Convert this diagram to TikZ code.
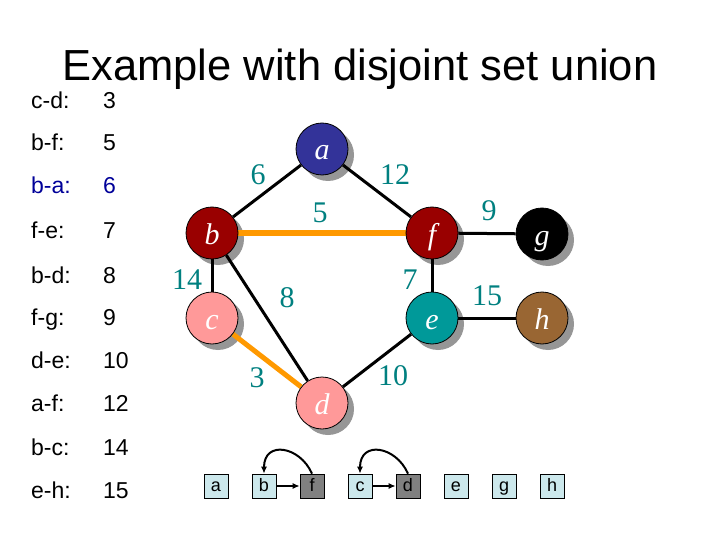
\documentclass[tikz,border=0pt]{standalone}
\usepackage{fontspec}
\setmainfont{Liberation Sans}
\newfontfamily\timesf{Liberation Serif}
\usetikzlibrary{arrows.meta}
\pgfdeclarelayer{paperlayer}
\pgfdeclarelayer{shadowlayer}
\pgfdeclarelayer{edgelayer}
\pgfsetlayers{paperlayer,shadowlayer,edgelayer,main}
\definecolor{ca}{RGB}{51,51,153}
\definecolor{cb}{RGB}{153,0,0}
\definecolor{cc}{RGB}{255,153,153}
\definecolor{ce}{RGB}{0,153,153}
\definecolor{ch}{RGB}{153,102,51}
\definecolor{lbl}{RGB}{0,128,128}
\definecolor{treeor}{RGB}{255,153,0}
\definecolor{boxc}{RGB}{204,232,236}
\definecolor{boxg}{RGB}{128,128,128}
\definecolor{listblue}{RGB}{0,0,153}
\definecolor{shad}{RGB}{150,150,150}
\begin{document}
\begin{tikzpicture}[x=1pt,y=-1pt,
  vert/.style={circle, draw=black, line width=0.8pt, minimum size=52pt, inner sep=0pt,
    text height=22pt, text depth=0pt,
    text=white, font=\timesf\itshape\fontsize{30}{30}\selectfont},
  wlabel/.style={text=lbl, inner sep=0pt, font=\timesf\fontsize{30}{30}\selectfont},
  gedge/.style={line width=3pt, black},
  tedge/.style={line width=5pt, treeor},
  listitem/.style={anchor=west, inner sep=0pt, text height=16pt, text depth=4pt,
    font=\fontsize{23}{23}\selectfont},
  setbox/.style={draw=black, line width=0.6pt, minimum size=24pt, inner sep=0pt,
    text height=13pt, text depth=3pt,
    fill=boxc, font=\fontsize{18}{18}\selectfont},
  parr/.style={line width=2pt, -{Latex[length=7pt,width=6pt]}}
]
\begin{pgfonlayer}{paperlayer}
\fill[white] (0,0) rectangle (720,540);
\end{pgfonlayer}
\useasboundingbox (0,0) rectangle (720,540);

% title
\node[inner sep=0pt, anchor=base, font=\fontsize{43.5}{43.5}\selectfont] (title) at (360,81) {Example with disjoint set union};

% sorted edge list
\foreach \lab/\val/\yy/\nm in {c-d:/3/103/l1, b-f:/5/145/l2, f-e:/7/233/l4, b-d:/8/277/l5,
    f-g:/9/319/l6, d-e:/10/362/l7, a-f:/12/405/l8, b-c:/14/449/l9, e-h:/15/492/l10}{
  \node[listitem] (\nm k) at (31,\yy) {\lab};
  \node[listitem] (\nm v) at (103,\yy) {\val};
}
\node[listitem, text=listblue] (l3k) at (31,188) {b-a:};
\node[listitem, text=listblue] (l3v) at (103,188) {6};

% vertices
\node[vert, fill=ca] (a) at (322,149) {a};
\node[vert, fill=cb] (b) at (212,233) {b};
\node[vert, fill=cb] (f) at (432,233) {f};
\node[vert, fill=black] (g) at (542,234) {g};
\node[vert, fill=cc] (c) at (212,318) {c};
\node[vert, fill=ce] (e) at (432,318) {e};
\node[vert, fill=ch] (h) at (542,318) {h};
\node[vert, fill=cc] (d) at (322,403) {d};

% shadows
\begin{pgfonlayer}{shadowlayer}
  \foreach \v in {a,b,f,g,c,e,h,d}{
    \fill[shad] ([shift={(6,6)}]\v.center) circle (26pt);
  }
\end{pgfonlayer}

% edges
\begin{pgfonlayer}{edgelayer}
  \draw[gedge] (a) -- (b);
  \draw[gedge] (a) -- (f);
  \draw[tedge] (b) -- (f);
  \draw[gedge] (b) -- (c);
  \draw[gedge] (b) -- (d);
  \draw[tedge] (c) -- (d);
  \draw[gedge] (f) -- (e);
  \draw[gedge] (f) -- (g);
  \draw[gedge] (e) -- (h);
  \draw[gedge] (e) -- (d);
\end{pgfonlayer}

% weights
\node[wlabel] (w6) at (258,175) {6};
\node[wlabel] (w12) at (395,175) {12};
\node[wlabel] (w5) at (320,213) {5};
\node[wlabel] (w9) at (489,211) {9};
\node[wlabel] (w14) at (187,280) {14};
\node[wlabel] (w8) at (287,298) {8};
\node[wlabel] (w7) at (410,280) {7};
\node[wlabel] (w15) at (487,296) {15};
\node[wlabel] (w3) at (257,378) {3};
\node[wlabel] (w10) at (393,376) {10};

% disjoint set boxes
\node[setbox] (sa) at (216,486) {a};
\node[setbox] (sb) at (264,486) {b};
\node[setbox, fill=boxg] (sf) at (312,486) {f};
\node[setbox] (sc) at (360,486) {c};
\node[setbox, fill=boxg] (sd) at (408,486) {d};
\node[setbox] (se) at (456,486) {e};
\node[setbox] (sg) at (504,486) {g};
\node[setbox] (sh) at (552,486) {h};

\draw[parr] (sb) -- (sf);
\draw[parr] (sc) -- (sd);
\draw[parr] (sf.north) .. controls (300,446) and (264,440) .. (sb.north);
\draw[parr] (sd.north) .. controls (396,446) and (360,440) .. (sc.north);
\end{tikzpicture}
\end{document}
